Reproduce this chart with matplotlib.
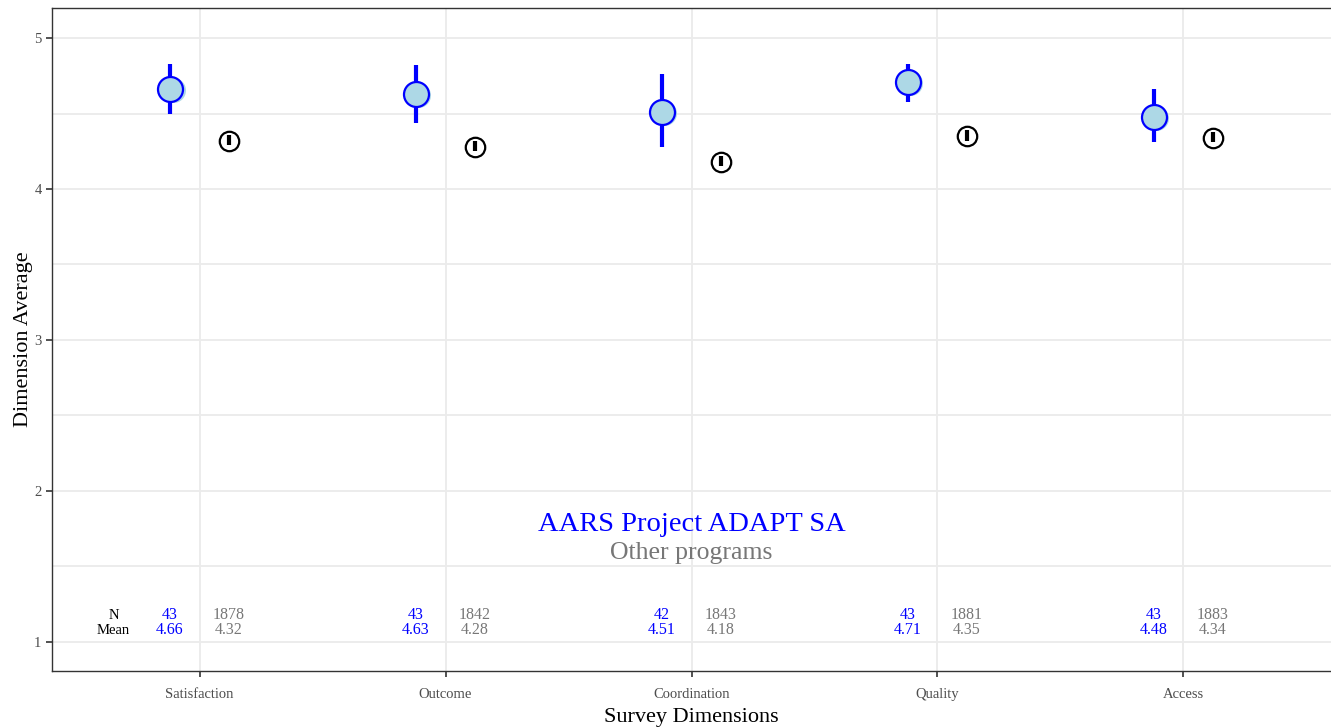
import numpy as np
import matplotlib
matplotlib.use("Agg")
from matplotlib import pyplot as plt
from matplotlib.ticker import MultipleLocator

plt.rcParams['font.family'] = ['Liberation Serif', 'DejaVu Serif']

dimensions = ['Satisfaction', 'Outcome', 'Coordination', 'Quality', 'Access']
prog_mean = [4.66, 4.63, 4.51, 4.71, 4.48]
prog_lo = [4.50, 4.44, 4.28, 4.58, 4.31]
prog_hi = [4.83, 4.82, 4.76, 4.83, 4.66]
prog_n = [43, 43, 42, 43, 43]
other_mean = [4.32, 4.28, 4.18, 4.35, 4.34]
other_lo = [4.29, 4.25, 4.15, 4.32, 4.31]
other_hi = [4.36, 4.32, 4.22, 4.39, 4.38]
other_n = [1878, 1842, 1843, 1881, 1883]

prog_label = 'AARS Project ADAPT SA'
other_label = 'Other programs'

fig = plt.figure(figsize=(13.31, 7.27), dpi=100)
ax = fig.add_axes([52/1331, 1 - 671/727, 1 - 52/1331, (671 - 8)/727])

x = np.arange(1, len(dimensions) + 1)
off = 0.12
xp = x - off
xo = x + off

# program: error bars, shadow and point
ax.vlines(xp, prog_lo, prog_hi, color='blue', lw=3, zorder=3)
ax.plot(xp + 0.01, np.array(prog_mean) - 0.006, 'o', ms=18, color='lightblue',
        mec='none', zorder=4)
ax.plot(xp, prog_mean, 'o', ms=18, mfc='lightblue', mec='blue', mew=1.6, zorder=5)

# other programs
ax.plot(xo, other_mean, 'o', ms=14, mfc='white', mec='black', mew=1.6, zorder=5)
ax.vlines(xo, other_lo, other_hi, color='black', lw=3, zorder=6)

# N / Mean table
ax.text(0.65, 1.175, 'N', ha='center', va='center', fontsize=10.5, color='black')
ax.text(0.65, 1.075, 'Mean', ha='center', va='center', fontsize=10.5, color='black')
for i in range(len(dimensions)):
    ax.text(xp[i], 1.175, str(prog_n[i]), ha='center', va='center', fontsize=11.5, color='blue')
    ax.text(xp[i], 1.075, '%.2f' % prog_mean[i], ha='center', va='center', fontsize=11.5, color='blue')
    ax.text(xo[i], 1.175, str(other_n[i]), ha='center', va='center', fontsize=11.5, color='#777777')
    ax.text(xo[i], 1.075, '%.2f' % other_mean[i], ha='center', va='center', fontsize=11.5, color='#777777')

ax.text(3, 1.775, prog_label, ha='center', va='center', fontsize=20.5, color='blue')
ax.text(3, 1.59, other_label, ha='center', va='center', fontsize=18.5, color='#777777')

ax.set_xlim(0.4, 5.6)
ax.set_ylim(0.805, 5.2)
ax.set_xticks(x)
ax.set_xticklabels(dimensions)
ax.yaxis.set_major_locator(MultipleLocator(1))
ax.yaxis.set_minor_locator(MultipleLocator(0.5))
ax.grid(which='major', color='#ebebeb', lw=1.3)
ax.grid(which='minor', axis='y', color='#ebebeb', lw=1.3)
ax.set_axisbelow(True)
ax.tick_params(axis='both', which='major', labelsize=10.5, colors='#4d4d4d', length=4, width=1.2)
ax.tick_params(axis='both', which='major', color='#333333')
ax.tick_params(which='minor', length=0)
ax.tick_params(axis='x', pad=8)
for s in ax.spines.values():
    s.set_color('#333333')
    s.set_linewidth(1.0)
ax.spines['right'].set_visible(False)

ax.set_xlabel('Survey Dimensions', fontsize=16, labelpad=5)
ax.set_ylabel('Dimension Average', fontsize=16, labelpad=1)

fig.savefig('out.png', dpi=100)
